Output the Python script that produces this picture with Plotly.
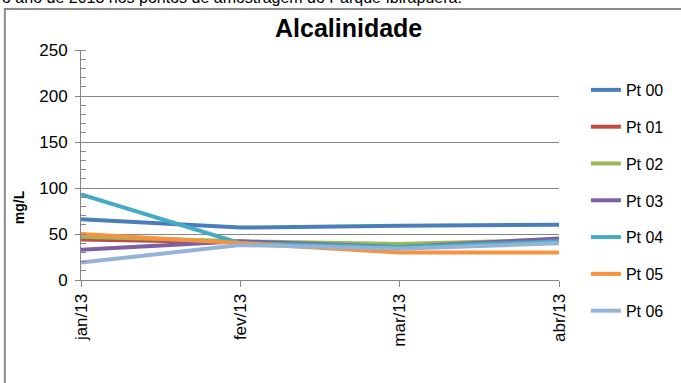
import plotly.graph_objects as go

# Sampling months
months = ["jan/13", "fev/13", "mar/13", "abr/13"]

# Alkalinity (mg/L) per sampling point
pt00 = [66, 57, 59, 60]
pt01 = [44, 41, 36, 43]
pt02 = [47, 42, 39, 44]
pt03 = [33, 42, 36, 45]
pt04 = [93, 40, 36, 42]
pt05 = [50, 40, 30, 30]
pt06 = [19, 38, 34, 40]

series = [
    ("Pt 00", pt00, "#4a7ebb"),
    ("Pt 01", pt01, "#be4b48"),
    ("Pt 02", pt02, "#98b954"),
    ("Pt 03", pt03, "#7d60a0"),
    ("Pt 04", pt04, "#46aac5"),
    ("Pt 05", pt05, "#f69240"),
    ("Pt 06", pt06, "#95b3d7"),
]

FONT = "Liberation Sans, Arial, sans-serif"
GRID = "#868686"

fig = go.Figure()
for i, (name, vals, color) in enumerate(series):
    fig.add_trace(go.Scatter(
        x=months, y=vals, name=name, mode="lines",
        line=dict(color=color, width=4),
        legendgroup=f"g{i}",
    ))

W, H = 681, 383
L, R, T, B = 81, 120, 50, 103
pw, ph = W - L - R, H - T - B


def px(x):
    return (x - L) / pw


def py(y):
    return (H - B - y) / ph


fig.update_layout(
    width=W, height=H,
    margin=dict(l=L, r=R, t=T, b=B, pad=0),
    paper_bgcolor="white", plot_bgcolor="white",
    font=dict(family=FONT, size=17, color="#000000"),
    showlegend=True,
    legend=dict(
        x=px(588), xanchor="left", y=py(73), yanchor="top",
        font=dict(family=FONT, size=16, color="#000000"),
        tracegroupgap=13, bgcolor="rgba(0,0,0,0)",
        maxheight=400,
    ),
    xaxis=dict(
        type="category", range=[0, 3],
        showgrid=False, showline=True, linecolor=GRID, linewidth=1,
        ticks="outside", ticklen=6, tickcolor=GRID,
        tickangle=-90, tickfont=dict(family=FONT, size=17),
        zeroline=False,
    ),
    yaxis=dict(
        range=[0, 250], dtick=50, tick0=0,
        showgrid=True, gridcolor=GRID, gridwidth=1,
        showline=True, linecolor=GRID, linewidth=1,
        ticks="outside", ticklen=5, tickcolor=GRID,
        minor=dict(dtick=10, ticks="inside", ticklen=5, tickcolor=GRID, showgrid=False),
        tickfont=dict(family=FONT, size=17),
        ticklabelstandoff=4,
        zeroline=False,
    ),
    annotations=[
        dict(text="<b>Alcalinidade</b>", x=px(350), y=py(28), xref="paper", yref="paper",
             xanchor="center", yanchor="middle", showarrow=False,
             font=dict(family=FONT, size=25, color="#000000")),
        dict(text="<b>mg/L</b>", x=px(19), y=py(207), xref="paper", yref="paper",
             xanchor="center", yanchor="middle", showarrow=False, textangle=-90,
             font=dict(family=FONT, size=14, color="#000000")),
        dict(text="o ano de 2013 nos pontos de amostragem do Parque Ibirapuera.",
             x=px(0), y=py(8), xref="paper", yref="paper",
             xanchor="left", yanchor="bottom", showarrow=False,
             font=dict(family=FONT, size=16, color="#000000")),
    ],
    shapes=[
        dict(type="rect", xref="paper", yref="paper",
             x0=px(4.5), x1=px(720), y0=py(9), y1=py(420),
             line=dict(color="#8c8c8c", width=2), fillcolor="rgba(0,0,0,0)",
             layer="below"),
    ],
)

fig.write_html("out.html")
